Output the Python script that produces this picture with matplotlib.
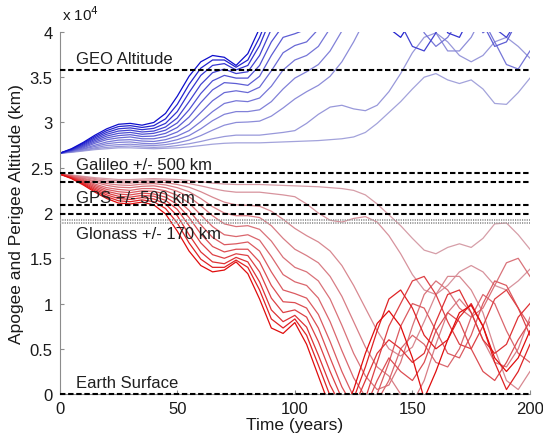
import numpy as np
import matplotlib
matplotlib.use("Agg")
import matplotlib.pyplot as plt
from matplotlib.ticker import FuncFormatter

plt.rcParams['font.family'] = ['Liberation Sans', 'DejaVu Sans']

# ---------------- data ----------------
years = list(range(0, 201, 5))

perigee_0 = [24300, 23800, 23100, 22300, 21600, 21100, 21000, 21200, 20900, 19900, 18000, 15800, 14200, 13500, 13700, 14600, 13300, 10500, 7300, 6700, 7900, 5500, 2000, -1500, -2500, 500, 4500, 7800, 9200, 7500, 4000, -500, 2500, 6000, 9000, 9800, 7500, 4000, 2500, 4000, 7000]
perigee_1 = [24300, 23850, 23200, 22450, 21800, 21350, 21250, 21450, 21250, 20500, 18900, 16700, 14900, 14000, 14000, 14800, 14000, 11500, 8300, 7300, 8300, 6500, 3200, -200, -2000, -500, 3000, 7000, 10500, 11500, 9500, 6500, 5000, 6000, 8500, 10000, 7500, 3500, 500, 2500, 5500]
perigee_2 = [24300, 23900, 23300, 22600, 22000, 21600, 21500, 21700, 21550, 21000, 19700, 17600, 15700, 14600, 14400, 15100, 14600, 12400, 9300, 8000, 8700, 7400, 4300, 1000, -1500, -1500, 1500, 4500, 6000, 5000, 3500, 4500, 8000, 11000, 11500, 9000, 6000, 4500, 5500, 8500, 10000]
perigee_3 = [24300, 23950, 23400, 22750, 22200, 21850, 21750, 21950, 21850, 21400, 20400, 18600, 16700, 15400, 15000, 15500, 15300, 13500, 10600, 9000, 9300, 8500, 5800, 2500, -500, -2000, -500, 3500, 7500, 10000, 12500, 13000, 11000, 8000, 5500, 5000, 7500, 10500, 11500, 9500, 6500]
perigee_4 = [24300, 24000, 23500, 22900, 22400, 22100, 22000, 22200, 22100, 21750, 20950, 19500, 17700, 16300, 15700, 16000, 16000, 14600, 12000, 10200, 10100, 9500, 7300, 4000, 800, -1500, -1500, 1500, 4000, 2500, 1500, 3500, 7000, 9000, 8000, 5000, 2500, 1500, 3500, 6000, 8000]
perigee_5 = [24300, 24000, 23600, 23050, 22600, 22350, 22250, 22450, 22400, 22100, 21450, 20300, 18700, 17300, 16500, 16600, 16800, 15800, 13500, 11500, 11100, 10600, 8800, 5800, 2500, -300, -1500, 0, 3500, 7500, 10000, 9500, 7000, 4500, 4000, 6500, 10000, 12500, 12000, 9500, 7500]
perigee_6 = [24300, 24050, 23700, 23200, 22800, 22600, 22500, 22700, 22700, 22450, 21950, 21100, 19800, 18500, 17600, 17400, 17600, 17000, 15200, 13200, 12400, 12000, 10600, 8000, 4800, 1800, -300, -800, 1500, 5000, 6500, 5500, 3500, 3000, 5000, 8500, 11000, 10000, 7000, 4500, 3500]
perigee_7 = [24300, 24100, 23800, 23400, 23050, 22850, 22800, 22950, 23000, 22800, 22400, 21800, 20800, 19700, 18800, 18500, 18600, 18200, 16900, 15100, 14000, 13500, 12500, 10500, 7600, 4500, 2000, 500, 1000, 3500, 7500, 11000, 12500, 11500, 9500, 8500, 9500, 12000, 14500, 15000, 13000]
perigee_8 = [24300, 24100, 23850, 23550, 23250, 23100, 23050, 23200, 23250, 23100, 22800, 22350, 21600, 20700, 20000, 19700, 19700, 19500, 18600, 17200, 16000, 15300, 14500, 13000, 10800, 8000, 5200, 3000, 2000, 0, -1000, 1500, 5500, 9000, 10500, 9000, 6000, 3500, 3000, 5000, 8500]
perigee_9 = [24300, 24150, 23950, 23700, 23450, 23350, 23300, 23400, 23450, 23350, 23150, 22850, 22350, 21750, 21200, 20900, 20850, 20750, 20200, 19300, 18300, 17500, 16800, 15800, 14200, 12000, 9500, 7000, 5000, 4200, 5200, 8000, 11000, 13000, 13000, 11500, 9000, 5000, 1500, 500, 2500]
perigee_10 = [24300, 24150, 24000, 23800, 23650, 23550, 23500, 23600, 23650, 23600, 23450, 23250, 23000, 22700, 22450, 22300, 22300, 22300, 22150, 22000, 21800, 21000, 20000, 19200, 19000, 19400, 19600, 19000, 17500, 15500, 13200, 11500, 11000, 12000, 13500, 14200, 13500, 12000, 11500, 12500, 13800]
perigee_11 = [24300, 24200, 24050, 23900, 23800, 23700, 23700, 23750, 23800, 23750, 23700, 23600, 23450, 23300, 23200, 23150, 23150, 23150, 23100, 23050, 23000, 22950, 22900, 22800, 22700, 22500, 22000, 21000, 19800, 18600, 17200, 15900, 15500, 16200, 16600, 16200, 17200, 18800, 18900, 17600, 16000]

apogee_0 = [26600, 27100, 27800, 28600, 29300, 29800, 29900, 29700, 30000, 31000, 32900, 35100, 36700, 37400, 37200, 36300, 37600, 40400, 43600, 44200, 43000, 45400, 48900, 52400, 53400, 50400, 46400, 43100, 41700, 43400, 46900, 51400, 48400, 44900, 41900, 41100, 43400, 46900, 48400, 46900, 43900]
apogee_1 = [26600, 27050, 27700, 28450, 29100, 29550, 29650, 29450, 29650, 30400, 32000, 34200, 36000, 36900, 36900, 36100, 36900, 39400, 42600, 43600, 42600, 44400, 47700, 51100, 52900, 51400, 47900, 43900, 40400, 39400, 41400, 44400, 45900, 44900, 42400, 40900, 43400, 47400, 50400, 48400, 45400]
apogee_2 = [26600, 27000, 27600, 28300, 28900, 29300, 29400, 29200, 29350, 29900, 31200, 33300, 35200, 36300, 36500, 35800, 36300, 38500, 41600, 42900, 42200, 43500, 46600, 49900, 52400, 52400, 49400, 46400, 44900, 45900, 47400, 46400, 42900, 39900, 39400, 41900, 44900, 46400, 45400, 42400, 40900]
apogee_3 = [26600, 26950, 27500, 28150, 28700, 29050, 29150, 28950, 29050, 29500, 30500, 32300, 34200, 35500, 35900, 35400, 35600, 37400, 40300, 41900, 41600, 42400, 45100, 48400, 51400, 52900, 51400, 47400, 43400, 40900, 38400, 37900, 39900, 42900, 45400, 45900, 43400, 40400, 39400, 41400, 44400]
apogee_4 = [26600, 26900, 27400, 28000, 28500, 28800, 28900, 28700, 28800, 29150, 29950, 31400, 33200, 34600, 35200, 34900, 34900, 36300, 38900, 40700, 40800, 41400, 43600, 46900, 50100, 52400, 52400, 49400, 46900, 48400, 49400, 47400, 43900, 41900, 42900, 45900, 48400, 49400, 47400, 44900, 42900]
apogee_5 = [26600, 26900, 27300, 27850, 28300, 28550, 28650, 28450, 28500, 28800, 29450, 30600, 32200, 33600, 34400, 34300, 34100, 35100, 37400, 39400, 39800, 40300, 42100, 45100, 48400, 51200, 52400, 50900, 47400, 43400, 40900, 41400, 43900, 46400, 46900, 44400, 40900, 38400, 38900, 41400, 43400]
apogee_6 = [26600, 26850, 27200, 27700, 28100, 28300, 28400, 28200, 28200, 28450, 28950, 29800, 31100, 32400, 33300, 33500, 33300, 33900, 35700, 37700, 38500, 38900, 40300, 42900, 46100, 49100, 51200, 51700, 49400, 45900, 44400, 45400, 47400, 47900, 45900, 42400, 39900, 40900, 43900, 46400, 47400]
apogee_7 = [26600, 26800, 27100, 27500, 27850, 28050, 28100, 27950, 27900, 28100, 28500, 29100, 30100, 31200, 32100, 32400, 32300, 32700, 34000, 35800, 36900, 37400, 38400, 40400, 43300, 46400, 48900, 50400, 49900, 47400, 43400, 39900, 38400, 39400, 41400, 42400, 41400, 38900, 36400, 35900, 37900]
apogee_8 = [26600, 26800, 27050, 27350, 27650, 27800, 27850, 27700, 27650, 27800, 28100, 28550, 29300, 30200, 30900, 31200, 31200, 31400, 32300, 33700, 34900, 35600, 36400, 37900, 40100, 42900, 45700, 47900, 48900, 50900, 51900, 49400, 45400, 41900, 40400, 41900, 44900, 47400, 47900, 45900, 42400]
apogee_9 = [26600, 26750, 26950, 27200, 27450, 27550, 27600, 27500, 27450, 27550, 27750, 28050, 28550, 29150, 29700, 30000, 30050, 30150, 30700, 31600, 32600, 33400, 34100, 35100, 36700, 38900, 41400, 43900, 45900, 46700, 45700, 42900, 39900, 37900, 37900, 39400, 41900, 45900, 49400, 50400, 48400]
apogee_10 = [26600, 26750, 26900, 27100, 27250, 27350, 27400, 27300, 27250, 27300, 27450, 27650, 27900, 28200, 28450, 28600, 28600, 28600, 28750, 28900, 29100, 29900, 30900, 31700, 31900, 31500, 31300, 31900, 33400, 35400, 37700, 39400, 39900, 38900, 37400, 36700, 37400, 38900, 39400, 38400, 37100]
apogee_11 = [26600, 26700, 26850, 27000, 27100, 27200, 27200, 27150, 27100, 27150, 27200, 27300, 27450, 27600, 27700, 27750, 27750, 27750, 27800, 27850, 27900, 27950, 28000, 28100, 28200, 28400, 28900, 29900, 31100, 32300, 33700, 35000, 35400, 34700, 34300, 34700, 33700, 32100, 32000, 33300, 34900]

perigee_curves = [perigee_0, perigee_1, perigee_2, perigee_3, perigee_4, perigee_5,
                  perigee_6, perigee_7, perigee_8, perigee_9, perigee_10, perigee_11]
apogee_curves = [apogee_0, apogee_1, apogee_2, apogee_3, apogee_4, apogee_5,
                 apogee_6, apogee_7, apogee_8, apogee_9, apogee_10, apogee_11]

ref_levels_dashed = [35786, 24400, 23400, 20850, 19850, 0]
ref_levels_glonass = [19270, 18930]
ref_labels = ["GEO Altitude", "Galileo +/- 500 km", "GPS +/- 500 km",
              "Glonass +/- 170 km", "Earth Surface"]
ref_label_y = [37100, 25400, 21750, 17700, 1300]

x_ticks = [0, 50, 100, 150, 200]
y_ticks = [0, 5000, 10000, 15000, 20000, 25000, 30000, 35000, 40000]

# ---------------- plot ----------------
fig = plt.figure(figsize=(5.43, 4.39), dpi=100)
ax = fig.add_axes([0.110, 0.100, 0.866, 0.825])

n = len(perigee_curves)
red_dark = np.array([0.88, 0.05, 0.05])
red_pale = np.array([0.84, 0.62, 0.66])
blue_dark = np.array([0.05, 0.05, 0.80])
blue_pale = np.array([0.64, 0.64, 0.86])

for k in range(n - 1, -1, -1):
    f = (k / (n - 1)) ** 0.8
    ax.plot(years, perigee_curves[k], color=red_dark + (red_pale - red_dark) * f, lw=0.9)
    ax.plot(years, apogee_curves[k], color=blue_dark + (blue_pale - blue_dark) * f, lw=0.9)

for y in ref_levels_dashed:
    ax.axhline(y, color='black', lw=1.5, dashes=(2.6, 1.3), clip_on=False, zorder=5)
for y in ref_levels_glonass:
    ax.axhline(y, color='0.62', lw=1.4, dashes=(0.6, 0.6), zorder=4)

for lab, y in zip(ref_labels, ref_label_y):
    ax.text(7, y, lab, fontsize=12, color='0.12', va='center', ha='left', zorder=6)

ax.set_xlim(0, 200)
ax.set_ylim(0, 40000)
ax.set_xticks(x_ticks)
ax.set_yticks(y_ticks)
ax.yaxis.set_major_formatter(FuncFormatter(lambda v, p: ('%g' % (v / 1e4))))
ax.tick_params(direction='in', length=3, labelsize=12, colors='0.55', labelcolor='0.1', pad=5)
for s in ['top', 'right']:
    ax.spines[s].set_visible(False)
for s in ['left', 'bottom']:
    ax.spines[s].set_color('0.55')
ax.set_xlabel('Time (years)', fontsize=12.5, color='0.1', labelpad=1)
ax.set_ylabel('Apogee and Perigee Altitude (km)', fontsize=12.5, color='0.1', labelpad=4)
fig.text(62 / 543, 1 - 15 / 439, r'x 10$^4$', fontsize=11, color='0.1', va='center', ha='left')

fig.savefig('out.png', dpi=100)
